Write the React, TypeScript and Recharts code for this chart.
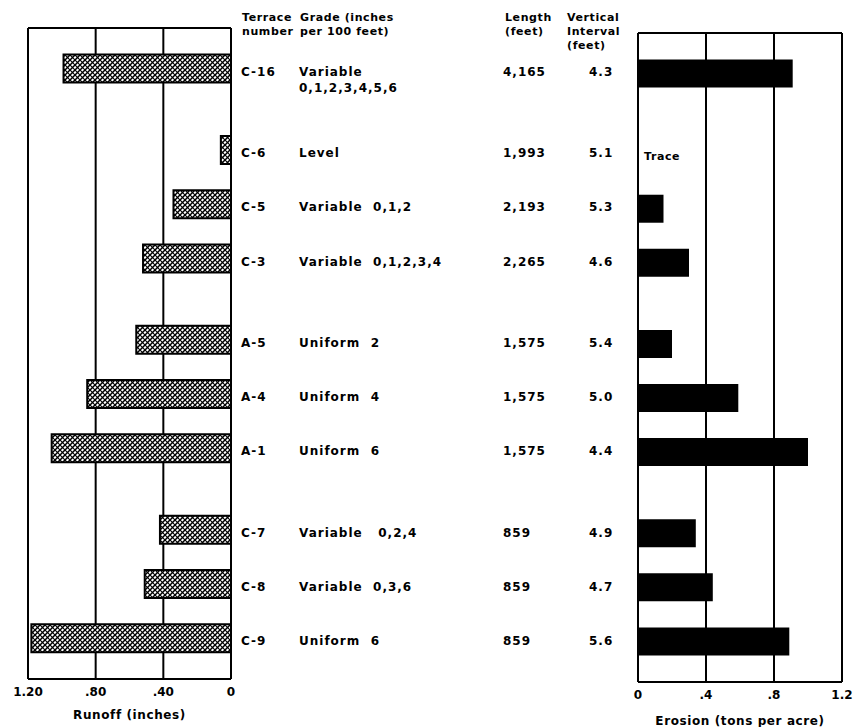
import { BarChart, Bar, XAxis, YAxis, CartesianGrid } from 'recharts'

const FONT = '"DejaVu Sans", Verdana, sans-serif'
const ink = '#000'

const terraces = ['C-16', 'C-6', 'C-5', 'C-3', 'A-5', 'A-4', 'A-1', 'C-7', 'C-8', 'C-9']
const grades = [
  ['Variable', '0,1,2,3,4,5,6'],
  ['Level'],
  ['Variable  0,1,2'],
  ['Variable  0,1,2,3,4'],
  ['Uniform  2'],
  ['Uniform  4'],
  ['Uniform  6'],
  ['Variable   0,2,4'],
  ['Variable  0,3,6'],
  ['Uniform  6'],
]
const lengths = ['4,165', '1,993', '2,193', '2,265', '1,575', '1,575', '1,575', '859', '859', '859']
const intervals = ['4.3', '5.1', '5.3', '4.6', '5.4', '5.0', '4.4', '4.9', '4.7', '5.6']
const runoff = [0.99, 0.06, 0.34, 0.52, 0.56, 0.85, 1.06, 0.42, 0.51, 1.18]
const erosion = [0.91, 0, 0.15, 0.3, 0.2, 0.59, 1.0, 0.34, 0.44, 0.89]
// terraces per block; blocks are set apart by half a row
const groups = [1, 3, 3, 3]
const runoffTicks = [0, 0.4, 0.8, 1.2]
const erosionTicks = [0, 0.4, 0.8, 1.2]

const rows: number[] = []
groups.forEach((n, g) => {
  for (let k = 0; k < n; k++) rows.push(rows.length + g * 0.5)
})
const rowDomain = [-0.75, rows[rows.length - 1] + 0.75]

const data = terraces.map((t, i) => ({ terrace: t, row: rows[i], runoff: runoff[i], erosion: erosion[i] }))

const txt = { fontFamily: FONT, fontSize: 12, fontWeight: 700, fill: ink, letterSpacing: 1, whiteSpace: 'pre' as const }

const fmtRunoff = (v: number) => (v === 0 ? '0' : v >= 1 ? v.toFixed(2) : v.toFixed(2).slice(1))
const fmtErosion = (v: number) => (v === 0 ? '0' : v >= 1 ? v.toFixed(1) : v.toFixed(1).slice(1))

// the table in the middle is drawn as the right-hand tick of the runoff chart
function TableTick(props: any) {
  const { x, y, payload } = props
  const i = rows.indexOf(payload.value)
  if (i < 0) return null
  return (
    <g>
      <text x={x + 10} y={y + 3} dominantBaseline="central" style={txt}>{terraces[i]}</text>
      {grades[i].map((line, k) => (
        <text key={k} x={x + 68} y={y + 3 + k * 16} dominantBaseline="central" style={txt}>{line}</text>
      ))}
      <text x={x + 272} y={y + 3} dominantBaseline="central" style={txt}>{lengths[i]}</text>
      <text x={x + 358} y={y + 3} dominantBaseline="central" style={txt}>{intervals[i]}</text>
    </g>
  )
}

// "Trace" where the erosion is zero
function TraceTick(props: any) {
  const { x, y, payload } = props
  const i = rows.indexOf(payload.value)
  if (i < 0 || erosion[i] !== 0) return null
  return <text x={x + 6} y={y + 2} dominantBaseline="central" style={{ ...txt, fontSize: 11, letterSpacing: 0.6 }}>Trace</text>
}

const head = { position: 'absolute' as const, fontFamily: FONT, fontSize: 11, fontWeight: 700, lineHeight: '14px', color: ink, letterSpacing: 0.6 }

export default function App() {
  return (
    <div style={{ position: 'absolute', left: 0, top: 0, width: 853, height: 727, background: '#fff' }}>
      <div style={{ ...head, left: 242, top: 11 }}>Terrace<br />number</div>
      <div style={{ ...head, left: 300, top: 11 }}>Grade (inches<br />per 100 feet)</div>
      <div style={{ ...head, left: 505, top: 11 }}>Length<br />(feet)</div>
      <div style={{ ...head, left: 567, top: 11 }}>Vertical<br />Interval<br />(feet)</div>

      {/* runoff */}
      <div style={{ position: 'absolute', left: 0, top: 0 }}>
        <BarChart width={640} height={727} data={data} layout="vertical" margin={{ top: 26, right: 0, bottom: 0, left: 28 }}>
          <defs>
            <pattern id="hatch" width="5" height="5" patternUnits="userSpaceOnUse">
              <rect width="5" height="5" fill="#fff" />
              <path d="M0,5 L5,0 M-1,1 L1,-1 M4,6 L6,4" stroke="#000" strokeWidth="1.5" />
              <path d="M0,0 L5,5 M-1,4 L1,6 M4,-1 L6,1" stroke="#000" strokeWidth="1.1" />
            </pattern>
          </defs>
          <CartesianGrid horizontal={false} stroke={ink} strokeWidth={2} />
          <XAxis type="number" dataKey="runoff" domain={[0, 1.2]} ticks={runoffTicks} reversed
            tickFormatter={fmtRunoff} tickLine={false} axisLine={{ stroke: ink, strokeWidth: 2 }} height={48}
            tick={{ fill: ink, fontSize: 12, fontFamily: FONT, fontWeight: 700 }}
            label={{ value: 'Runoff  (inches)', position: 'insideBottom', offset: 8, fill: ink, fontSize: 12, fontFamily: FONT, fontWeight: 700, letterSpacing: 0.6, style: { whiteSpace: 'pre' } }} />
          <XAxis xAxisId="top" orientation="top" type="number" domain={[0, 1.2]} ticks={runoffTicks} reversed height={2}
            tick={false} tickLine={false} axisLine={{ stroke: ink, strokeWidth: 2 }} />
          <YAxis type="number" dataKey="row" domain={rowDomain} orientation="right" width={409}
            ticks={rows} interval={0} tickSize={0} tickMargin={0} tickLine={false}
            axisLine={{ stroke: ink, strokeWidth: 2 }} tick={<TableTick />} />
          <Bar dataKey="runoff" barSize={28} fill="url(#hatch)" stroke={ink} strokeWidth={2} isAnimationActive={false} />
        </BarChart>
      </div>

      {/* erosion */}
      <div style={{ position: 'absolute', left: 600, top: 0 }}>
        <BarChart width={253} height={727} data={data} layout="vertical" margin={{ top: 31, right: 11, bottom: 0, left: 36 }}>
          <CartesianGrid horizontal={false} stroke={ink} strokeWidth={2} />
          <XAxis type="number" dataKey="erosion" domain={[0, 1.2]} ticks={erosionTicks}
            tickFormatter={fmtErosion} tickLine={false} axisLine={{ stroke: ink, strokeWidth: 2 }} height={45}
            tick={{ fill: ink, fontSize: 12, fontFamily: FONT, fontWeight: 700 }}
            label={{ value: 'Erosion  (tons per acre)', position: 'insideBottom', offset: 2, fill: ink, fontSize: 12, fontFamily: FONT, fontWeight: 700, letterSpacing: 0.6, style: { whiteSpace: 'pre' } }} />
          <XAxis xAxisId="top" orientation="top" type="number" domain={[0, 1.2]} ticks={erosionTicks} height={2}
            tick={false} tickLine={false} axisLine={{ stroke: ink, strokeWidth: 2 }} />
          <YAxis type="number" dataKey="row" domain={rowDomain} width={2} ticks={rows} interval={0}
            tickSize={0} tickMargin={0} tickLine={false} axisLine={false} tick={<TraceTick />} />
          <Bar dataKey="erosion" barSize={28} fill={ink} isAnimationActive={false} />
        </BarChart>
      </div>
    </div>
  )
}
